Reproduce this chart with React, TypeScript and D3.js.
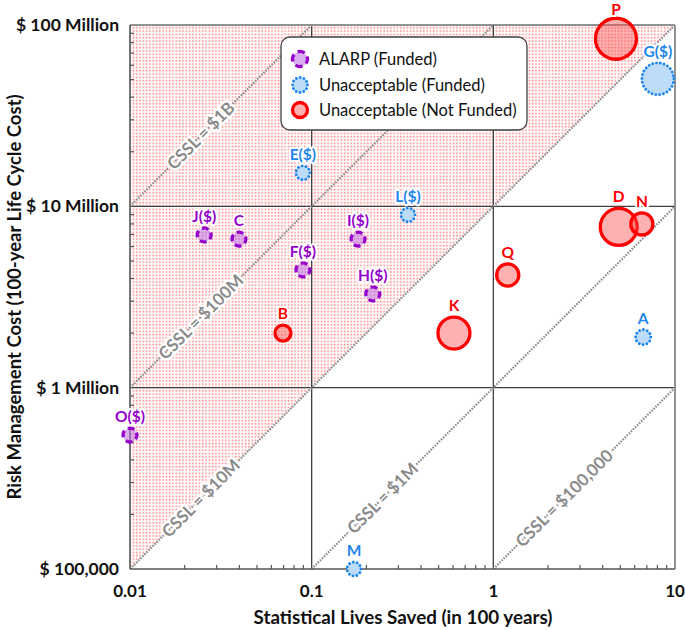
import React from 'react';
import * as d3 from 'd3';

// ---------- data ----------
const pointNames = ['A', 'B', 'C', 'D', 'E($)', 'F($)', 'G($)', 'H($)', 'I($)', 'J($)', 'K', 'L($)', 'M', 'N', 'O($)', 'P', 'Q'];
const livesSaved = [6.68, 0.0695, 0.0398, 4.9, 0.0895, 0.0895, 8.05, 0.217, 0.18, 0.0256, 0.607, 0.339, 0.171, 6.57, 0.01, 4.73, 1.2];
const riskCost = [1.9e6, 2.0e6, 6.6e6, 7.7e6, 1.53e7, 4.46e6, 5.05e7, 3.29e6, 6.6e6, 6.95e6, 2.0e6, 8.97e6, 1e5, 8.0e6, 5.48e5, 8.4e7, 4.18e6];
const pointCategory = [1, 2, 0, 2, 1, 0, 1, 0, 0, 0, 2, 1, 1, 2, 0, 2, 2];
const bubbleSize = [37, 39, 34, 90, 34, 34, 78, 34, 34, 34, 78, 34, 34, 54, 34, 100, 54];

const categories = ['ALARP (Funded)', 'Unacceptable (Funded)', 'Unacceptable (Not Funded)'];
const csslValues = [1e9, 1e8, 1e7, 1e6, 1e5];
const csslLabels = ['CSSL = $1B', 'CSSL = $100M', 'CSSL = $10M', 'CSSL = $1M', 'CSSL = $100,000'];
const xTickValues = [0.01, 0.1, 1, 10];
const xTickLabels = ['0.01', '0.1', '1', '10'];
const yTickValues = [1e5, 1e6, 1e7, 1e8];
const yTickLabels = ['$ 100,000', '$ 1 Million', '$ 10 Million', '$ 100 Million'];
const xTitle = 'Statistical Lives Saved (in 100 years)';
const yTitle = 'Risk Management Cost (100-year Life Cycle Cost)';

// ---------- styles ----------
const FONT = 'Lato, "Open Sans", sans-serif';
const catStyle = [
  { stroke: '#9400CC', fill: 'rgba(190,110,225,0.55)', width: 3.2, kind: 'dash', label: '#9400CC' },
  { stroke: '#1F86EE', fill: '#BCDCFA', width: 2.9, kind: 'dot', label: '#1F86EE' },
  { stroke: '#FF0000', fill: 'rgba(255,70,70,0.42)', width: 3.3, kind: 'solid', label: '#FF0000' },
];

const L = 130, R = 675, T = 25, B = 569;

function dashFor(kind: string, r: number) {
  const c = 2 * Math.PI * r;
  if (kind === 'dash') return `${(c / 4) * 0.62} ${(c / 4) * 0.38}`;
  if (kind === 'dot') {
    const n = Math.max(10, Math.round(c / 3.9));
    return `0.01 ${c / n - 0.01}`;
  }
  return undefined;
}

function Marker({ cx, cy, r, cat }: { cx: number; cy: number; r: number; cat: number }) {
  const s = catStyle[cat];
  return (
    <circle
      cx={cx}
      cy={cy}
      r={r}
      fill={s.fill}
      stroke={s.stroke}
      strokeWidth={s.width}
      strokeDasharray={dashFor(s.kind, r)}
      strokeLinecap={s.kind === 'dot' ? 'round' : 'butt'}
      transform={s.kind === 'dash' ? `rotate(-20 ${cx} ${cy})` : undefined}
    />
  );
}

export default function App() {
  const x = d3.scaleLog().domain([0.01, 10]).range([L, R]);
  const y = d3.scaleLog().domain([1e5, 1e8]).range([B, T]);
  const rScale = d3.scaleLinear().domain([0, 100]).range([0, 20.5]);

  const minorX: number[] = [];
  for (const d of [0.01, 0.1, 1]) for (let k = 2; k <= 9; k++) minorX.push(d * k);
  const minorY: number[] = [];
  for (const d of [1e5, 1e6, 1e7]) for (let k = 2; k <= 9; k++) minorY.push(d * k);

  const shade = [
    [0.01, 1e5],
    [0.01, 1e8],
    [10, 1e8],
  ];
  const shadePath = d3.line<number[]>().x((d) => x(d[0])).y((d) => y(d[1]))(shade) + 'Z';

  const diag = csslValues.map((c, i) => {
    const x0 = Math.max(0.01, 1e5 / c);
    const x1 = Math.min(10, 1e8 / c);
    const lx = x0 * Math.pow(10, 0.39);
    return { x0, x1, c, label: csslLabels[i], lx, ly: c * lx };
  });

  const legendY = [59, 85, 110];

  return (
    <svg width={685} height={630} style={{ position: 'absolute', left: 0, top: 0, background: '#fff' }} fontFamily={FONT}>
      <defs>
        <pattern id="dots" width={3.3} height={3.3} patternUnits="userSpaceOnUse">
          <rect x={0.6} y={0.6} width={1.6} height={1.6} fill="#ff6b6b" opacity={0.8} />
        </pattern>
        <clipPath id="plotClip">
          <rect x={L} y={T} width={R - L} height={B - T} />
        </clipPath>
      </defs>

      {/* shaded region */}
      <path d={shadePath} fill="url(#dots)" />

      {/* decade grid lines */}
      {[0.1, 1].map((v) => (
        <line key={'gx' + v} x1={x(v)} x2={x(v)} y1={T} y2={B} stroke="#3f3f3f" strokeWidth={1.3} />
      ))}
      {[1e6, 1e7].map((v) => (
        <line key={'gy' + v} x1={L} x2={R} y1={y(v)} y2={y(v)} stroke="#3f3f3f" strokeWidth={1.3} />
      ))}

      {/* border top/right */}
      <line x1={L} x2={R} y1={T} y2={T} stroke="#6f6f6f" strokeWidth={1.5} />
      <line x1={R} x2={R} y1={T} y2={B} stroke="#6f6f6f" strokeWidth={1.5} />

      {/* CSSL diagonals */}
      <g clipPath="url(#plotClip)">
        {diag.map((d) => (
          <line
            key={d.c}
            x1={x(d.x0)}
            y1={y(d.c * d.x0)}
            x2={x(d.x1)}
            y2={y(d.c * d.x1)}
            stroke="#8c8c8c"
            strokeWidth={2.2}
            strokeDasharray="1.6 1.3"
          />
        ))}
      </g>
      {diag.map((d) => {
        const px = x(d.lx);
        const py = y(d.ly);
        return (
          <text
            key={'l' + d.c}
            x={px}
            y={py}
            transform={`rotate(-45 ${px} ${py})`}
            textAnchor="middle"
            dy="0.35em"
            fontSize={17}
            fontWeight={700}
            fill="#8a8a8a"
            stroke="#fff"
            strokeWidth={4.5}
            strokeLinejoin="round"
            paintOrder="stroke"
          >
            {d.label}
          </text>
        );
      })}

      {/* axes */}
      <line x1={L} x2={L} y1={T} y2={B} stroke="#555" strokeWidth={1.6} />
      <line x1={L} x2={R} y1={B} y2={B} stroke="#555" strokeWidth={1.6} />
      {minorY.map((v) => (
        <line key={'my' + v} x1={L} x2={L + 4} y1={y(v)} y2={y(v)} stroke="#555" strokeWidth={1.2} />
      ))}
      {minorX.map((v) => (
        <line key={'mx' + v} x1={x(v)} x2={x(v)} y1={B} y2={B - 4} stroke="#555" strokeWidth={1.2} />
      ))}
      {xTickValues.map((v, i) => (
        <text key={'xt' + v} x={x(v)} y={597} textAnchor="middle" fontSize={17} fontWeight={700} fill="#111">
          {xTickLabels[i]}
        </text>
      ))}
      {yTickValues.map((v, i) => (
        <text key={'yt' + v} x={119} y={y(v)} dy="0.35em" textAnchor="end" fontSize={17.5} fontWeight={700} fill="#111">
          {yTickLabels[i]}
        </text>
      ))}
      <text x={403} y={624} textAnchor="middle" fontSize={18.8} fontWeight={700} fill="#111">
        {xTitle}
      </text>
      <text
        x={0}
        y={0}
        transform={`translate(21 ${(T + B) / 2}) rotate(-90)`}
        textAnchor="middle"
        fontSize={18.5}
        fontWeight={700}
        fill="#111"
      >
        {yTitle}
      </text>

      {/* points */}
      {pointNames.map((n, i) => {
        const cx = x(livesSaved[i]);
        const cy = y(riskCost[i]);
        const r = rScale(bubbleSize[i]);
        return <Marker key={'p' + n} cx={cx} cy={cy} r={r} cat={pointCategory[i]} />;
      })}
      {pointNames.map((n, i) => {
        const cx = x(livesSaved[i]);
        const cy = y(riskCost[i]);
        const r = rScale(bubbleSize[i]);
        const st = catStyle[pointCategory[i]];
        const ly = Math.max(9, cy - r - st.width / 2 - 10);
        return (
          <text
            key={'t' + n}
            x={cx}
            y={ly}
            dy="0.36em"
            textAnchor="middle"
            fontSize={15.5}
            fontWeight={700}
            fill={st.label}
            stroke="#fff"
            strokeWidth={4}
            strokeLinejoin="round"
            paintOrder="stroke"
          >
            {n}
          </text>
        );
      })}

      {/* legend */}
      <rect x={281} y={37} width={246} height={93} rx={9} fill="#fff" stroke="#404040" strokeWidth={1.3} />
      {categories.map((c, i) => (
        <g key={c}>
          <Marker cx={300} cy={legendY[i]} r={7.5} cat={i} />
          <text x={319} y={legendY[i]} dy="0.35em" fontSize={16.5} fill="#111">
            {c}
          </text>
        </g>
      ))}
    </svg>
  );
}
